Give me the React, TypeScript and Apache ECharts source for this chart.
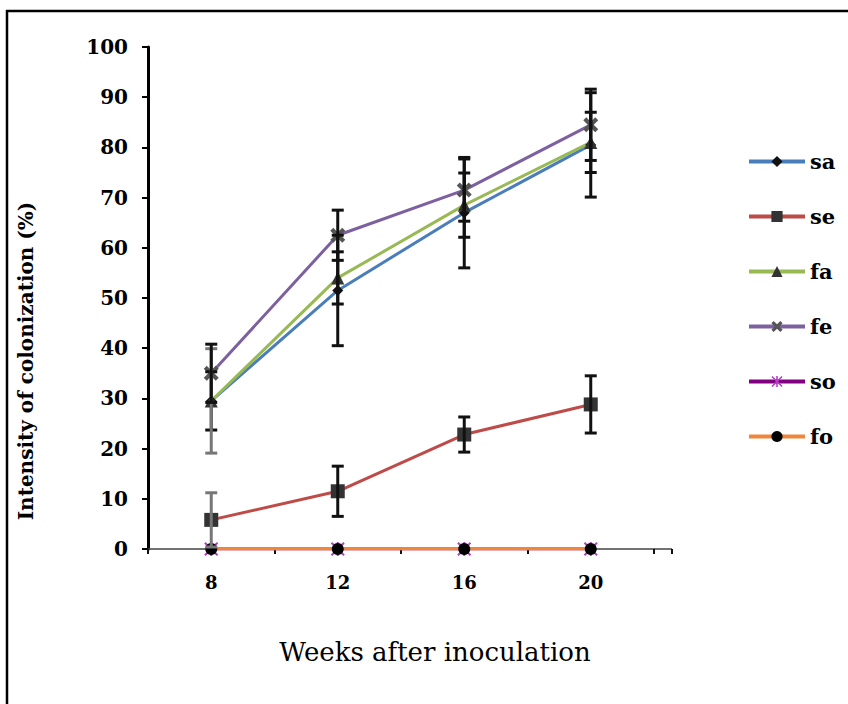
import React, { useEffect, useRef } from "react";
import * as echarts from "echarts";

const categories = ["8", "12", "16", "20"];
const yTicks = [0, 10, 20, 30, 40, 50, 60, 70, 80, 90, 100];

const saValues = [29.5, 51.5, 67, 80.5];
const saErr = [5.8, 11, 11, 10.4];
const seValues = [5.8, 11.5, 22.8, 28.8];
const seErr = [5.4, 5, 3.5, 5.7];
const faValues = [29.5, 54, 68.5, 81];
const faErr = [10.4, 5.2, 6.4, 6];
const feValues = [35, 62.5, 71.5, 84.5];
const feErr = [5.8, 5, 6.2, 7.1];
const soValues = [0, 0, 0, 0];
const foValues = [0, 0, 0, 0];

const seriesNames = ["sa", "se", "fa", "fe", "so", "fo"];

const X_PATH =
  "path://M0,2 L2,0 L5,3 L8,0 L10,2 L7,5 L10,8 L8,10 L5,7 L2,10 L0,8 L3,5 Z";
const AST_PATH =
  "path://M0,1 L1,0 L5,4 L9,0 L10,1 L6,5 L10,9 L9,10 L5,6 L1,10 L0,9 L4,5 Z M4.3,0 L5.7,0 L5.7,10 L4.3,10 Z";

const FONT = "'DejaVu Serif', 'Liberation Serif', serif";

function errData(values: number[], errs: number[]) {
  return values.map((v, i) => [i, Math.max(0, v - errs[i]), v + errs[i]]);
}

function errSeries(name: string, values: number[], errs: number[], grayFirst: boolean) {
  return {
    type: "custom",
    name: name + "-err",
    z: 3,
    silent: true,
    data: errData(values, errs),
    renderItem: (params: any, api: any) => {
      const idx = api.value(0);
      const lo = api.coord([idx, api.value(1)]);
      const hi = api.coord([idx, api.value(2)]);
      const color = grayFirst && idx === 0 ? "#777" : "#111";
      const w = 6;
      const style = { stroke: color, lineWidth: 3 };
      return {
        type: "group",
        children: [
          { type: "line", shape: { x1: hi[0], y1: hi[1], x2: lo[0], y2: lo[1] }, style },
          { type: "line", shape: { x1: hi[0] - w, y1: hi[1], x2: hi[0] + w, y2: hi[1] }, style },
          { type: "line", shape: { x1: lo[0] - w, y1: lo[1], x2: lo[0] + w, y2: lo[1] }, style },
        ],
      };
    },
  };
}

function lineSeries(
  name: string,
  values: number[],
  lineColor: string,
  symbol: string,
  symbolSize: number,
  symbolColor: string
) {
  return {
    type: "line",
    name,
    data: values,
    z: 2,
    symbol,
    symbolSize,
    showAllSymbol: true,
    lineStyle: { color: lineColor, width: 3 },
    itemStyle: { color: symbolColor, borderWidth: 0 },
    emphasis: { disabled: true },
  };
}

export default function App() {
  const ref = useRef<HTMLDivElement>(null);

  useEffect(() => {
    if (!ref.current) return;
    const chart = echarts.init(ref.current, null, { renderer: "svg" });
    chart.setOption({
      animation: false,
      backgroundColor: "#fff",
      grid: { left: 148, top: 47, right: 194, bottom: 155, containLabel: false },
      legend: {
        data: seriesNames,
        orient: "vertical",
        left: 742,
        top: 146,
        itemWidth: 56,
        itemHeight: 14,
        itemGap: 34,
        selectedMode: false,
        lineStyle: { width: 4 },
        textStyle: { fontFamily: FONT, fontSize: 21, fontWeight: "bold", color: "#000" },
      },
      xAxis: {
        type: "category",
        data: categories,
        boundaryGap: true,
        axisLine: { lineStyle: { color: "#444", width: 1.5 } },
        axisTick: { show: true, inside: false, length: 5, lineStyle: { color: "#111", width: 2 } },
        axisLabel: { margin: 24, fontFamily: FONT, fontSize: 18, fontWeight: "bold", color: "#000" },
        splitLine: { show: false },
      },
      yAxis: {
        type: "value",
        min: 0,
        max: 100,
        interval: 10,
        axisLine: { show: true, lineStyle: { color: "#000", width: 3 } },
        axisTick: { show: true, inside: false, length: 6, lineStyle: { color: "#000", width: 2 } },
        axisLabel: {
          margin: 20,
          fontFamily: FONT,
          fontSize: 20,
          fontWeight: "bold",
          color: "#000",
          formatter: (v: number) => (yTicks.includes(v) ? String(v) : ""),
        },
        splitLine: { show: false },
      },
      graphic: [
        { type: "line", shape: { x1: 6, y1: 11, x2: 848, y2: 11 }, style: { stroke: "#000", lineWidth: 2.5 } },
        { type: "line", shape: { x1: 7, y1: 10, x2: 7, y2: 704 }, style: { stroke: "#000", lineWidth: 2.5 } },
        { type: "line", shape: { x1: 654, y1: 549, x2: 672, y2: 549 }, style: { stroke: "#444", lineWidth: 1.5 } },
        { type: "line", shape: { x1: 672, y1: 549, x2: 672, y2: 554 }, style: { stroke: "#111", lineWidth: 2 } },
        {
          type: "text",
          x: 26,
          y: 361,
          rotation: Math.PI / 2,
          style: {
            text: "Intensity of colonization (%)",
            fontFamily: FONT,
            fontSize: 20,
            fontWeight: "bold",
            fill: "#000",
            textAlign: "center",
            textVerticalAlign: "middle",
          },
        },
        {
          type: "text",
          x: 435,
          y: 652,
          style: {
            text: "Weeks after inoculation",
            fontFamily: FONT,
            fontSize: 26,
            fontWeight: "normal",
            fill: "#000",
            textAlign: "center",
            textVerticalAlign: "middle",
          },
        },
      ],
      series: [
        lineSeries("sa", saValues, "#4a7ebb", "diamond", 11, "#111"),
        lineSeries("se", seValues, "#be4b48", "rect", 14, "#333"),
        lineSeries("fa", faValues, "#98b954", "triangle", 13, "#333"),
        lineSeries("fe", feValues, "#7d60a0", X_PATH, 15, "#555"),
        lineSeries("so", soValues, "#800080", AST_PATH, 14, "#b040c0"),
        lineSeries("fo", foValues, "#f0863a", "circle", 12, "#000"),
        errSeries("sa", saValues, saErr, false),
        errSeries("se", seValues, seErr, true),
        errSeries("fa", faValues, faErr, true),
        errSeries("fe", feValues, feErr, false),
      ],
    });
    return () => chart.dispose();
  }, []);

  return (
    <div
      ref={ref}
      style={{ position: "fixed", left: 0, top: 0, width: 848, height: 704, background: "#fff" }}
    />
  );
}
